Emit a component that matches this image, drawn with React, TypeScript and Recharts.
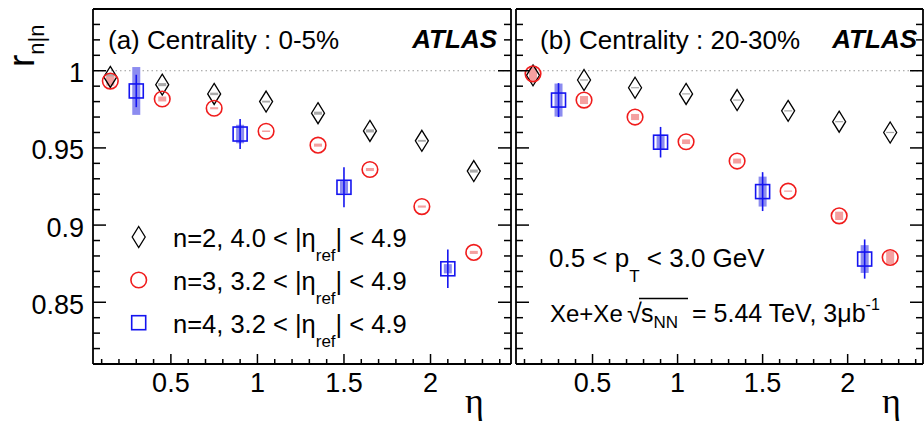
import React from "react";
import {
  ScatterChart,
  Scatter,
  XAxis,
  YAxis,
  ErrorBar,
  ReferenceLine,
  Legend,
} from "recharts";

const FONT = "'Liberation Sans', Arial, Helvetica, sans-serif";
const BLUE = "#1414f0";
const BLUE_BOX = "#8c8cf0";
const RED = "#f01c1c";
const PINK = "#f4a0a0";
const GREY = "#aaaaaa";

// eta bin centres
const etaN23 = [0.15, 0.45, 0.75, 1.05, 1.35, 1.65, 1.95, 2.25];
const etaN4 = [0.3, 0.9, 1.5, 2.1];

// (a) centrality 0-5%
const aN2 = [0.996, 0.991, 0.985, 0.98, 0.9725, 0.961, 0.9546, 0.935];
const aN2Syst = [0.002, 0.001, 0.0008, 0.0006, 0.001, 0.001, 0.0006, 0.001];
const aN3 = [0.9933, 0.9817, 0.9757, 0.9608, 0.9518, 0.936, 0.912, 0.8823];
const aN3Syst = [0.003, 0.0016, 0.0007, 0.0005, 0.001, 0.001, 0.0007, 0.001];
const aN4 = [0.9869, 0.959, 0.9245, 0.8717];
const aN4Stat = [0.0105, 0.0097, 0.013, 0.0125];
const aN4Syst = [0.0155, 0.006, 0.004, 0.003];

// (b) centrality 20-30%
const bN2 = [0.997, 0.994, 0.989, 0.985, 0.981, 0.974, 0.967, 0.96];
const bN2Syst = [0.0015, 0.0004, 0.0004, 0.0004, 0.0004, 0.0004, 0.0004, 0.0004];
const bN3 = [0.998, 0.981, 0.97, 0.954, 0.9415, 0.922, 0.906, 0.879];
const bN3Syst = [0.0045, 0.0026, 0.002, 0.0015, 0.0016, 0.0004, 0.0027, 0.0043];
const bN4 = [0.981, 0.9537, 0.9217, 0.878];
const bN4Stat = [0.011, 0.0099, 0.0126, 0.0127];
const bN4Syst = [0.0107, 0.0048, 0.0097, 0.009];

// axis ticks
const xTicks = [0.1, 0.2, 0.3, 0.4, 0.5, 0.6, 0.7, 0.8, 0.9, 1, 1.1, 1.2, 1.3, 1.4, 1.5, 1.6, 1.7, 1.8, 1.9, 2, 2.1, 2.2, 2.3, 2.4];
const xMajor = [0.5, 1, 1.5, 2];
const yTicks = [0.82, 0.83, 0.84, 0.85, 0.86, 0.87, 0.88, 0.89, 0.9, 0.91, 0.92, 0.93, 0.94, 0.95, 0.96, 0.97, 0.98, 0.99, 1, 1.01, 1.02, 1.03];
const yMajor = [0.85, 0.9, 0.95, 1];

// legend
const legendN = ["2", "3", "4"];
const legendLow = ["4.0", "3.2", "3.2"];
const legendHigh = "4.9";

const rows = (eta: number[], r: number[], syst: number[], stat?: number[]) =>
  eta.map((e, i) => ({ eta: e, r: r[i], syst: syst[i], stat: stat ? stat[i] : 0 }));

const AXIS = { stroke: "#000", strokeWidth: 1.8 };

function makeTick(side: string, labels: boolean) {
  return (props: any) => {
    const { x, y, payload } = props;
    const v = payload.value;
    const horiz = side === "bottom" || side === "top";
    const major = (horiz ? xMajor : yMajor).some((m) => Math.abs(m - v) < 1e-6);
    const len = horiz ? (major ? 10 : 5) : major ? 13 : 7;
    let l = { x1: x, x2: x, y1: y, y2: y };
    if (side === "bottom") l.y2 = y - len;
    if (side === "top") l.y2 = y + len;
    if (side === "left") l.x2 = x + len;
    if (side === "right") l.x2 = x - len;
    return (
      <g>
        <line {...l} stroke="#000" strokeWidth={1.5} />
        {labels && major && side === "bottom" && (
          <text x={x} y={y + 28} textAnchor="middle" fontSize={27} fontFamily={FONT} fill="#000">
            {String(v)}
          </text>
        )}
        {labels && major && side === "left" && (
          <text x={x - 9} y={y + 11.5} textAnchor="end" fontSize={27} fontFamily={FONT} fill="#000">
            {String(v)}
          </text>
        )}
      </g>
    );
  };
}

const Diamond = (p: any) => (
  <polygon
    points={`${p.cx},${p.cy - 10.5} ${p.cx + 6.5},${p.cy} ${p.cx},${p.cy + 10.5} ${p.cx - 6.5},${p.cy}`}
    fill="none"
    stroke="#000"
    strokeWidth={1.3}
  />
);
const Circle = (p: any) => <circle cx={p.cx} cy={p.cy} r={7.8} fill="none" stroke={RED} strokeWidth={1.6} />;
const Square = (p: any) => (
  <rect x={p.cx - 7} y={p.cy - 7} width={14} height={14} fill="none" stroke={BLUE} strokeWidth={1.6} />
);

function LegendBox() {
  const shapes = [
    <Diamond cx={38.7} cy={22} />,
    <Circle cx={38.7} cy={65} />,
    <Square cx={38.7} cy={107.7} />,
  ];
  return (
    <svg width={330} height={135} style={{ display: "block", overflow: "visible" }}>
      {legendN.map((n, i) => (
        <g key={n}>
          {shapes[i]}
          <text x={73} y={32 + i * 42.8} fontSize={25.5} fontFamily={FONT} fill="#000">
            {`n=${n}, ${legendLow[i]} < |η`}
            <tspan fontSize={17} dy={14}>ref</tspan>
            <tspan dy={-14}>{`| < ${legendHigh}`}</tspan>
          </text>
        </g>
      ))}
    </svg>
  );
}

function Panel(props: any) {
  const { n2, n3, n4, domain, width, margin, labels, legend } = props;
  return (
    <ScatterChart width={width} height={423} margin={margin}>
      <XAxis
        xAxisId="b"
        type="number"
        dataKey="eta"
        domain={domain}
        allowDataOverflow
        ticks={xTicks}
        interval={0}
        tickSize={0}
        tickMargin={0}
        tickLine={false}
        axisLine={AXIS}
        tick={makeTick("bottom", true)}
        height={1}
      />
      <XAxis
        xAxisId="t"
        orientation="top"
        type="number"
        domain={domain}
        allowDataOverflow
        ticks={xTicks}
        interval={0}
        tickSize={0}
        tickMargin={0}
        tickLine={false}
        axisLine={AXIS}
        tick={makeTick("top", false)}
        height={1}
      />
      <YAxis
        yAxisId="l"
        type="number"
        dataKey="r"
        domain={[0.81, 1.04]}
        allowDataOverflow
        ticks={yTicks}
        interval={0}
        tickSize={0}
        tickMargin={0}
        tickLine={false}
        axisLine={AXIS}
        tick={makeTick("left", labels)}
        width={1}
      />
      <YAxis
        yAxisId="r"
        orientation="right"
        type="number"
        domain={[0.81, 1.04]}
        allowDataOverflow
        ticks={yTicks}
        interval={0}
        tickSize={0}
        tickMargin={0}
        tickLine={false}
        axisLine={AXIS}
        tick={makeTick("right", false)}
        width={1}
      />
      <ReferenceLine xAxisId="b" yAxisId="l" y={1} stroke="#9a9a9a" strokeWidth={1} strokeDasharray="1.5 3" />
      <Scatter name="n=2" xAxisId="b" yAxisId="l" data={n2} shape={Diamond} isAnimationActive={false}>
        <ErrorBar dataKey="syst" direction="y" width={0} stroke={GREY} strokeWidth={8} isAnimationActive={false} />
      </Scatter>
      <Scatter name="n=3" xAxisId="b" yAxisId="l" data={n3} shape={Circle} isAnimationActive={false}>
        <ErrorBar dataKey="syst" direction="y" width={0} stroke={PINK} strokeWidth={8} isAnimationActive={false} />
      </Scatter>
      <Scatter name="n=4" xAxisId="b" yAxisId="l" data={n4} shape={Square} isAnimationActive={false}>
        <ErrorBar dataKey="syst" direction="y" width={0} stroke={BLUE_BOX} strokeWidth={8} isAnimationActive={false} />
        <ErrorBar dataKey="stat" direction="y" width={0} stroke={BLUE} strokeWidth={1.6} isAnimationActive={false} />
      </Scatter>
      {legend && (
        <Legend
          layout="vertical"
          align="center"
          verticalAlign="middle"
          content={() => <LegendBox />}
          wrapperStyle={{ left: 100, top: 215, width: 330, height: 135 }}
        />
      )}
    </ScatterChart>
  );
}

export default function App() {
  return (
    <div style={{ position: "absolute", left: 0, top: 0, width: 924, height: 423, background: "#fff", overflow: "hidden" }}>
      <div style={{ position: "absolute", left: 0, top: 0 }}>
        <Panel
          n2={rows(etaN23, aN2, aN2Syst)}
          n3={rows(etaN23, aN3, aN3Syst)}
          n4={rows(etaN4, aN4, aN4Syst, aN4Stat)}
          domain={[0.05, 2.465]}
          width={520}
          margin={{ top: 8, right: 8, bottom: 58, left: 92 }}
          labels
          legend
        />
      </div>
      <div style={{ position: "absolute", left: 500, top: 0 }}>
        <Panel
          n2={rows(etaN23, bN2, bN2Syst)}
          n3={rows(etaN23, bN3, bN3Syst)}
          n4={rows(etaN4, bN4, bN4Syst, bN4Stat)}
          domain={[0.05, 2.443]}
          width={424}
          margin={{ top: 8, right: 0, bottom: 58, left: 15 }}
          labels={false}
          legend={false}
        />
      </div>
      <svg
        width={924}
        height={423}
        style={{ position: "absolute", left: 0, top: 0, pointerEvents: "none" }}
        fontFamily={FONT}
      >
        <text transform="translate(34,67) rotate(-90)" fontSize={37} fill="#000">
          r<tspan fontSize={22} dy={10}>n|n</tspan>
        </text>
        <text x={108} y={49} fontSize={26} fill="#000">(a) Centrality : 0-5%</text>
        <text x={497} y={48} fontSize={26} fontWeight="bold" fontStyle="italic" textAnchor="end" fill="#000">ATLAS</text>
        <text x={540} y={49} fontSize={26} fill="#000">(b) Centrality : 20-30%</text>
        <text x={917} y={48} fontSize={26} fontWeight="bold" fontStyle="italic" textAnchor="end" fill="#000">ATLAS</text>
        <text x={465} y={413} fontSize={36} fontFamily="'Liberation Serif', 'DejaVu Serif', serif" fill="#000">η</text>
        <text x={882} y={413} fontSize={36} fontFamily="'Liberation Serif', 'DejaVu Serif', serif" fill="#000">η</text>
        <text x={549} y={266.7} fontSize={26} fill="#000">
          0.5 &lt; p<tspan fontSize={17} dy={15}>T</tspan>
          <tspan dy={-15}> &lt; 3.0 GeV</tspan>
        </text>
        <line x1={639} x2={688} y1={298.5} y2={298.5} stroke="#000" strokeWidth={1.3} />
        <text x={550} y={322} fontSize={24} fill="#000">
          Xe+Xe
          <tspan x={627} y={323} fontSize={27}>√</tspan>
          <tspan x={641} y={322} fontSize={25}>s</tspan>
          <tspan fontSize={17} dy={6}>NN</tspan>
          <tspan x={692} y={322} fontSize={25}>= 5.44 TeV, 3μb</tspan>
          <tspan fontSize={16} dy={-12}>-1</tspan>
        </text>
      </svg>
    </div>
  );
}
